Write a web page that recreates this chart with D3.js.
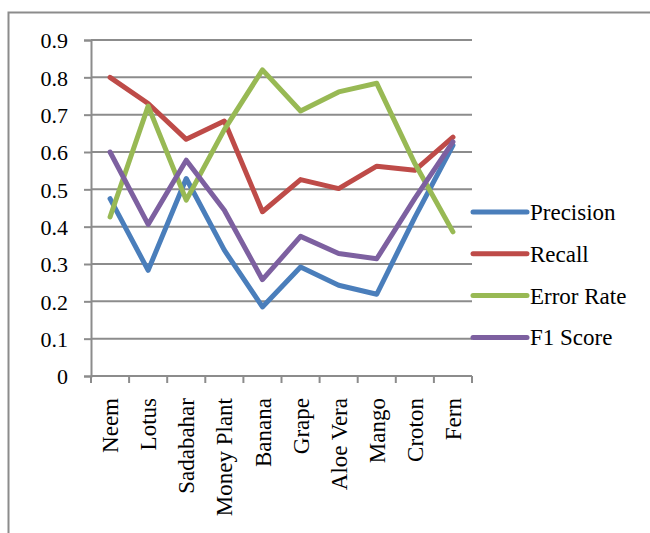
<!DOCTYPE html>
<html>
<head>
<meta charset="utf-8">
<script src="https://cdnjs.cloudflare.com/ajax/libs/d3/7.8.5/d3.min.js"></script>
<style>
	body { margin:0; background:#fff; }
</style>
</head>
<body>
<svg id="chart" width="650" height="533"></svg>
<script>
"use strict";

var plants = ["Neem","Lotus","Sadabahar","Money Plant","Banana","Grape","Aloe Vera","Mango","Croton","Fern"];
var precision = [0.475,0.283,0.529,0.337,0.185,0.292,0.243,0.219,0.425,0.618];
var recall    = [0.80,0.73,0.634,0.683,0.44,0.526,0.502,0.562,0.551,0.64];
var errorRate = [0.426,0.723,0.471,0.66,0.82,0.71,0.761,0.784,0.569,0.386];
var f1Score   = [0.60,0.406,0.578,0.444,0.258,0.374,0.328,0.314,0.476,0.627];
var seriesNames = ["Precision","Recall","Error Rate","F1 Score"];
var seriesColors = ["#4a7ebb","#be4b48","#98b954","#7d60a0"];
var yTicks = [0,0.1,0.2,0.3,0.4,0.5,0.6,0.7,0.8,0.9];

var svg = d3.select("#chart");
var grey = "#8c8c8c";
var serif = "'Liberation Serif', 'Times New Roman', Times, serif";

// outer frame (runs off the right and bottom edge)
svg.append("rect")
	.attr("x",8.5).attr("y",12.5)
	.attr("width",720).attr("height",600)
	.attr("fill","none")
	.attr("stroke",grey)
	.attr("stroke-width",2);

var x = d3.scaleBand().domain(plants).range([91,472]);
var y = d3.scaleLinear().domain([0,0.9]).range([376,40]);

// gridlines
svg.append("g").selectAll("line")
	.data(yTicks.slice(1))
	.join("line")
	.attr("x1",91).attr("x2",472)
	.attr("y1",function(d){ return y(d); })
	.attr("y2",function(d){ return y(d); })
	.attr("stroke",grey)
	.attr("stroke-width",2);

// y axis
var yAxis = svg.append("g")
	.attr("transform","translate(91,0)")
	.call(d3.axisLeft(y).tickValues(yTicks).tickSize(7).tickPadding(16)
		.tickFormat(function(d){ return d === 0 ? "0" : d3.format(".1f")(d); }));
yAxis.attr("font-family",serif).attr("font-size",22);
yAxis.select(".domain").attr("stroke",grey).attr("stroke-width",2);
yAxis.selectAll(".tick line").attr("stroke",grey).attr("stroke-width",2);
yAxis.selectAll("text")
	.style("font-family",serif)
	.style("font-size","22px")
	.attr("fill","#000")
	.attr("dy","0.36em");

// x axis: baseline with ticks between categories
var xg = svg.append("g");
xg.append("line")
	.attr("x1",91).attr("x2",472)
	.attr("y1",y(0)).attr("y2",y(0))
	.attr("stroke",grey).attr("stroke-width",2);
var edges = plants.map(function(p){ return x(p); }).concat([x.range()[1]]);
xg.selectAll(".xt")
	.data(edges)
	.join("line")
	.attr("class","xt")
	.attr("x1",function(d){ return d; }).attr("x2",function(d){ return d; })
	.attr("y1",y(0)).attr("y2",y(0)+7)
	.attr("stroke",grey).attr("stroke-width",2);
xg.selectAll("text")
	.data(plants)
	.join("text")
	.attr("transform",function(d){ return "translate("+(x(d)+x.bandwidth()/2)+",398) rotate(-90)"; })
	.attr("text-anchor","end")
	.attr("dy","0.35em")
	.style("font-family",serif)
	.style("font-size","23px")
	.text(function(d){ return d; });

// lines
var allSeries = [precision,recall,errorRate,f1Score];
var line = d3.line()
	.x(function(d,i){ return x(plants[i])+x.bandwidth()/2; })
	.y(function(d){ return y(d); });

svg.append("g").selectAll("path")
	.data(allSeries)
	.join("path")
	.attr("d",function(d){ return line(d); })
	.attr("fill","none")
	.attr("stroke",function(d,i){ return seriesColors[i]; })
	.attr("stroke-width",5)
	.attr("stroke-linejoin","round")
	.attr("stroke-linecap","round");

// legend
var legend = svg.append("g").selectAll("g")
	.data(seriesNames)
	.join("g")
	.attr("transform",function(d,i){ return "translate(473,"+(212+i*41.8)+")"; });
legend.append("line")
	.attr("x1",0).attr("x2",54)
	.attr("stroke",function(d,i){ return seriesColors[i]; })
	.attr("stroke-width",5)
	.attr("stroke-linecap","round");
legend.append("text")
	.attr("x",57)
	.attr("dy","0.35em")
	.style("font-family",serif)
	.style("font-size","23px")
	.text(function(d){ return d; });
</script>
</body>
</html>
